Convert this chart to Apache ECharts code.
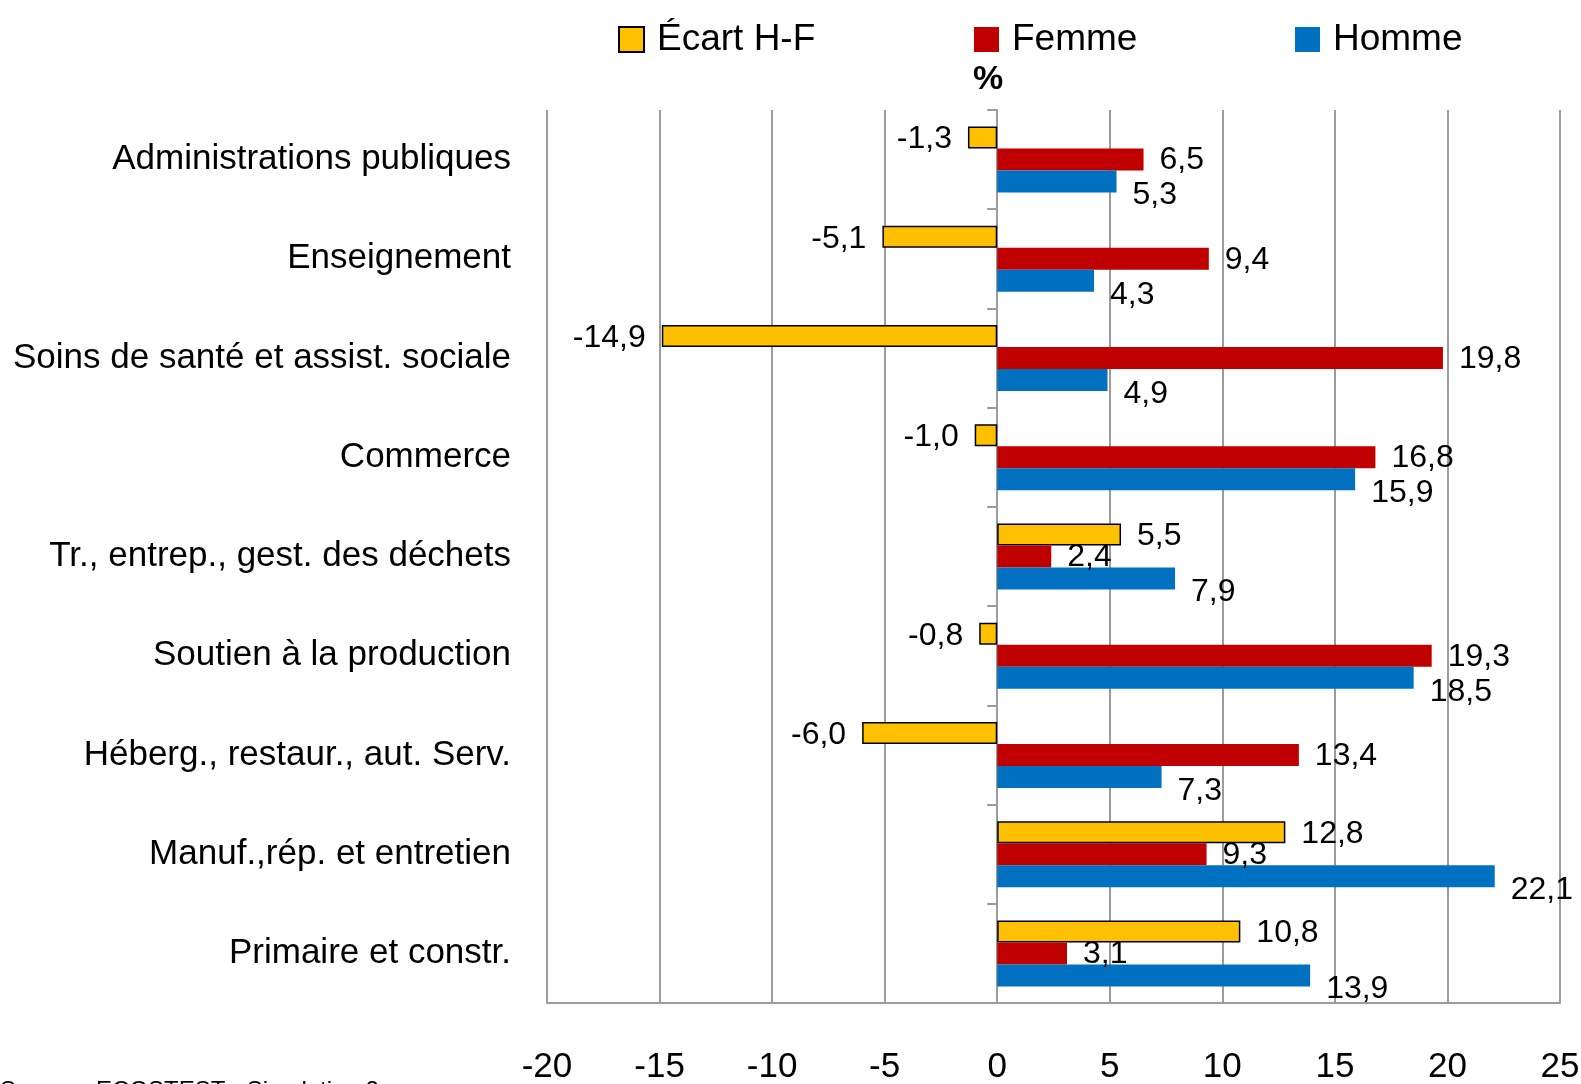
<!DOCTYPE html>
<html>
<head>
<meta charset="utf-8">
<script src="https://cdn.jsdelivr.net/npm/echarts@6/dist/echarts.min.js"></script>
<style>
  html, body { margin: 0; padding: 0; background: #fff; }
  #chart { width: 1581px; height: 1084px; }
</style>
</head>
<body>
<div id="chart"></div>
<script>
// Secteurs, du haut vers le bas
const categories = [
  'Administrations publiques',
  'Enseignement',
  'Soins de santé et assist. sociale',
  'Commerce',
  'Tr., entrep., gest. des déchets',
  'Soutien à la production',
  'Héberg., restaur., aut. Serv.',
  'Manuf.,rép. et entretien',
  'Primaire et constr.'
];
const ecartHF = [-1.3, -5.1, -14.9, -1.0, 5.5, -0.8, -6.0, 12.8, 10.8];
const femme = [6.5, 9.4, 19.8, 16.8, 2.4, 19.3, 13.4, 9.3, 3.1];
const homme = [5.3, 4.3, 4.9, 15.9, 7.9, 18.5, 7.3, 22.1, 13.9];
const xTicks = { min: -20, max: 25, interval: 5 };
const sourceText = 'Source : ECOSTEST - Simulation 2';

const FONT = "'Liberation Sans', Arial, sans-serif";
const GRID_GREY = '#9c9c9c';

// virgule décimale
const fmt = (v) => Number(v).toFixed(1).replace('.', ',');

function labelled(values, offsetY) {
  return values.map((v) => ({
    value: v,
    label: { position: v < 0 ? 'left' : 'right', offset: [0, offsetY] }
  }));
}

const labelBase = {
  show: true,
  distance: 16,
  color: '#000',
  fontFamily: FONT,
  fontSize: 32,
  formatter: (p) => fmt(p.value)
};

const chart = echarts.init(document.getElementById('chart'), null, { renderer: 'canvas' });

const legendBase = {
  top: 16,
  itemWidth: 25,
  itemHeight: 25,
  icon: 'rect',
  selectedMode: false,
  textStyle: { fontFamily: FONT, fontSize: 37, color: '#000', padding: [0, 0, 0, 8] }
};

chart.setOption({
  animation: false,
  backgroundColor: '#fff',
  title: {
    text: '%',
    left: 968,
    top: 58,
    textStyle: { fontFamily: FONT, fontSize: 34, fontWeight: 'bold', color: '#000' }
  },
  legend: [
    Object.assign({}, legendBase, { left: 613, data: ['Écart H-F'] }),
    Object.assign({}, legendBase, { left: 969, data: ['Femme'] }),
    Object.assign({}, legendBase, { left: 1290, data: ['Homme'] })
  ],
  grid: { left: 547, right: 21, top: 110, bottom: 81, containLabel: false, outerBoundsMode: 'none' },
  xAxis: {
    type: 'value',
    min: xTicks.min,
    max: xTicks.max,
    interval: xTicks.interval,
    axisLine: { show: true, lineStyle: { color: GRID_GREY, width: 2 } },
    axisTick: { show: false },
    axisLabel: { color: '#000', fontFamily: FONT, fontSize: 35, margin: 47 },
    splitLine: { show: true, lineStyle: { color: GRID_GREY, width: 2 } }
  },
  yAxis: [
    {
      type: 'category',
      inverse: true,
      position: 'left',
      data: categories,
      axisLine: { show: false, onZero: false },
      axisTick: { show: false },
      axisLabel: { color: '#000', fontFamily: FONT, fontSize: 35, margin: 36 }
    },
    {
      // ligne du zéro avec graduations
      type: 'category',
      inverse: true,
      position: 'right',
      data: categories,
      axisLine: { show: true, onZero: true, lineStyle: { color: GRID_GREY, width: 2 } },
      axisTick: { show: true, inside: true, length: 10, lineStyle: { color: GRID_GREY, width: 2 } },
      axisLabel: { show: false }
    }
  ],
  series: [
    {
      name: 'Écart H-F',
      type: 'bar',
      barWidth: 22,
      barGap: '0%',
      data: labelled(ecartHF, 2),
      itemStyle: { color: '#FFC000', borderColor: '#000', borderWidth: 1.5 },
      label: labelBase
    },
    {
      name: 'Femme',
      type: 'bar',
      barWidth: 22,
      barGap: '0%',
      data: labelled(femme, 1),
      itemStyle: { color: '#C00000' },
      label: labelBase
    },
    {
      name: 'Homme',
      type: 'bar',
      barWidth: 22,
      barGap: '0%',
      data: labelled(homme, 14),
      itemStyle: { color: '#0070C0' },
      label: labelBase
    }
  ],
  graphic: [
    {
      type: 'text',
      left: 0,
      top: 1079,
      style: { text: sourceText, fontFamily: FONT, fontSize: 24, fill: '#000' }
    }
  ]
});
</script>
</body>
</html>
